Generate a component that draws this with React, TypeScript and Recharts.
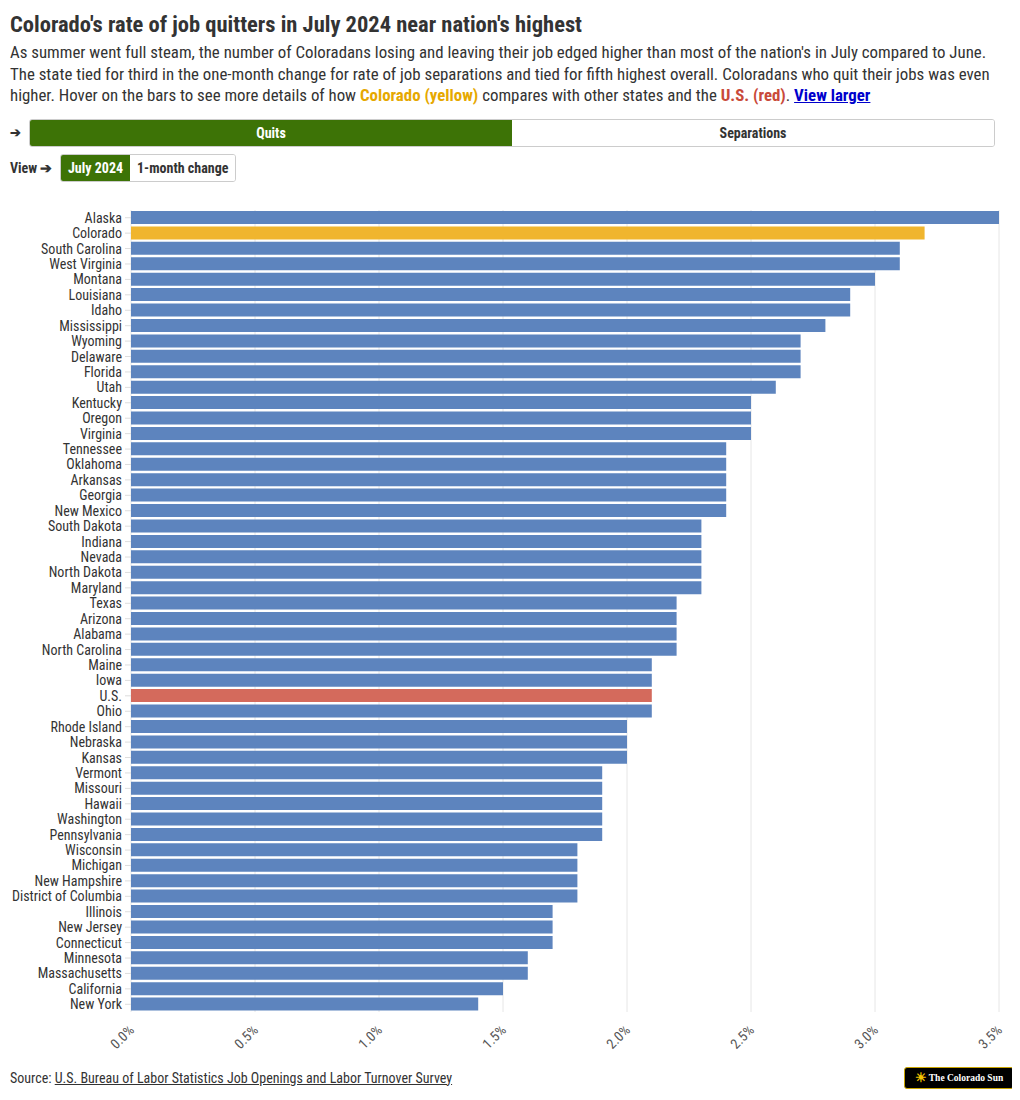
import React from 'react';
import { BarChart, Bar, XAxis, YAxis, CartesianGrid, Cell } from 'recharts';

const states = [
  'Alaska', 'Colorado', 'South Carolina', 'West Virginia', 'Montana', 'Louisiana', 'Idaho',
  'Mississippi', 'Wyoming', 'Delaware', 'Florida', 'Utah', 'Kentucky', 'Oregon', 'Virginia',
  'Tennessee', 'Oklahoma', 'Arkansas', 'Georgia', 'New Mexico', 'South Dakota', 'Indiana',
  'Nevada', 'North Dakota', 'Maryland', 'Texas', 'Arizona', 'Alabama', 'North Carolina',
  'Maine', 'Iowa', 'U.S.', 'Ohio', 'Rhode Island', 'Nebraska', 'Kansas', 'Vermont',
  'Missouri', 'Hawaii', 'Washington', 'Pennsylvania', 'Wisconsin', 'Michigan',
  'New Hampshire', 'District of Columbia', 'Illinois', 'New Jersey', 'Connecticut',
  'Minnesota', 'Massachusetts', 'California', 'New York',
];

const quitRates = [
  3.5, 3.2, 3.1, 3.1, 3.0, 2.9, 2.9,
  2.8, 2.7, 2.7, 2.7, 2.6, 2.5, 2.5, 2.5,
  2.4, 2.4, 2.4, 2.4, 2.4, 2.3, 2.3,
  2.3, 2.3, 2.3, 2.2, 2.2, 2.2, 2.2,
  2.1, 2.1, 2.1, 2.1, 2.0, 2.0, 2.0, 1.9,
  1.9, 1.9, 1.9, 1.9, 1.8, 1.8,
  1.8, 1.8, 1.7, 1.7, 1.7,
  1.6, 1.6, 1.5, 1.4,
];

const xTicks = [0, 0.5, 1.0, 1.5, 2.0, 2.5, 3.0, 3.5];

const BLUE = '#5d84be';
const YELLOW = '#f0b52e';
const RED = '#d46a5c';
const GREEN = '#3d7306';
const FONT = '"Roboto Condensed", "Liberation Sans Narrow", Roboto, sans-serif';

const chartData = states.map((name, i) => ({ name, value: quitRates[i] }));

function barColor(name: string) {
  if (name === 'Colorado') return YELLOW;
  if (name === 'U.S.') return RED;
  return BLUE;
}

function XTick(props: any) {
  const { x, y, payload } = props;
  return (
    <text
      x={x + 4}
      y={y + 11}
      transform={`rotate(-45, ${x + 4}, ${y + 11})`}
      textAnchor="end"
      fontSize={14}
      fill="#555"
      fontFamily={FONT}
    >
      {payload.value.toFixed(1)}%
    </text>
  );
}

function YTick(props: any) {
  const { x, y, payload } = props;
  return (
    <text x={x} y={y} dy={5} textAnchor="end" fontSize={14} fill="#333" fontFamily={FONT}>
      {payload.value}
    </text>
  );
}

export default function App() {
  return (
    <div style={{ fontFamily: FONT, color: '#333', width: 1004, paddingLeft: 2 }}>
      <div style={{ fontSize: 22.5, fontWeight: 700, marginTop: 2, lineHeight: '28px' }}>
        Colorado's rate of job quitters in July 2024 near nation's highest
      </div>
      <div style={{ fontSize: 16.85, lineHeight: '21.5px', marginTop: 4, whiteSpace: 'nowrap' }}>
        As summer went full steam, the number of Coloradans losing and leaving their job edged higher than most of the nation's in July compared to June.
        <br />
        The state tied for third in the one-month change for rate of job separations and tied for fifth highest overall. Coloradans who quit their jobs was even
        <br />
        higher. Hover on the bars to see more details of how{' '}
        <b style={{ color: '#e6a800' }}>Colorado (yellow)</b> compares with other states and the{' '}
        <b style={{ color: '#c94a3a' }}>U.S. (red)</b>.{' '}
        <b style={{ color: '#0000cc', textDecoration: 'underline' }}>View larger</b>
      </div>
      <div style={{ display: 'flex', alignItems: 'center', marginTop: 12, height: 28 }}>
        <span style={{ width: 19, fontSize: 13, fontWeight: 700 }}>➔</span>
        <div style={{ display: 'flex', width: 966, height: 28, border: '1px solid #ccc', borderRadius: 3, boxSizing: 'border-box', overflow: 'hidden' }}>
          <div style={{ flex: 1, background: GREEN, color: '#fff', fontWeight: 700, fontSize: 14, display: 'flex', alignItems: 'center', justifyContent: 'center' }}>Quits</div>
          <div style={{ flex: 1, background: '#fff', color: '#333', fontWeight: 700, fontSize: 14, display: 'flex', alignItems: 'center', justifyContent: 'center' }}>Separations</div>
        </div>
      </div>
      <div style={{ display: 'flex', alignItems: 'center', marginTop: 7, height: 28 }}>
        <span style={{ fontSize: 14, fontWeight: 700, width: 50 }}>View ➔</span>
        <div style={{ display: 'flex', height: 28, border: '1px solid #ccc', borderRadius: 3, boxSizing: 'border-box', overflow: 'hidden' }}>
          <div style={{ background: GREEN, color: '#fff', fontWeight: 700, fontSize: 14, padding: '0 7px', display: 'flex', alignItems: 'center' }}>July 2024</div>
          <div style={{ background: '#fff', color: '#333', fontWeight: 700, fontSize: 14, padding: '0 7px', display: 'flex', alignItems: 'center' }}>1-month change</div>
        </div>
      </div>
      <div style={{ marginTop: 12, marginLeft: -2 }}>
        <BarChart
          width={1004}
          height={863}
          data={chartData}
          layout="vertical"
          margin={{ top: 16, right: 13, bottom: 0, left: 0 }}
          barCategoryGap={1}
        >
          <CartesianGrid horizontal={false} stroke="#e6e6e6" />
          <XAxis
            type="number"
            domain={[0, 3.5]}
            ticks={xTicks}
            tick={<XTick />}
            axisLine={false}
            tickLine={false}
            height={45}
            interval={0}
          />
          <YAxis
            type="category"
            dataKey="name"
            width={123}
            interval={0}
            axisLine={false}
            tickLine={{ stroke: '#ddd' }}
            tickSize={6}
            tickMargin={3}
            tick={<YTick />}
          />
          <Bar dataKey="value" isAnimationActive={false}>
            {chartData.map((d) => (
              <Cell key={d.name} fill={barColor(d.name)} />
            ))}
          </Bar>
        </BarChart>
      </div>
      <div style={{ display: 'flex', justifyContent: 'space-between', alignItems: 'center', marginTop: 10 }}>
        <div style={{ fontSize: 14 }}>
          Source: <span style={{ textDecoration: 'underline' }}>U.S. Bureau of Labor Statistics Job Openings and Labor Turnover Survey</span>
        </div>
        <div
          style={{
            background: '#000',
            color: '#fff',
            border: '1px solid #c9a400',
            borderRadius: 3,
            fontFamily: '"Liberation Serif", serif',
            fontSize: 9.5,
            fontWeight: 700,
            width: 110,
            height: 22,
            boxSizing: 'border-box',
            display: 'flex',
            alignItems: 'center',
            justifyContent: 'center',
            gap: 2,
            whiteSpace: 'nowrap',
            overflow: 'hidden',
          }}
        >
          <span style={{ color: '#f5c400', fontSize: 13 }}>☀</span> The Colorado Sun
        </div>
      </div>
    </div>
  );
}
